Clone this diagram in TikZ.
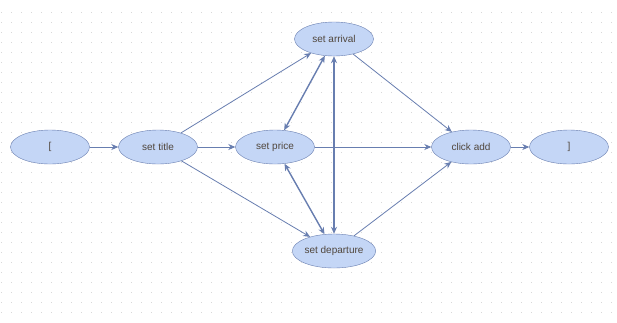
\documentclass[tikz,border=0pt]{standalone}
\usepackage{fontspec}
\setmainfont{Liberation Sans}
\usetikzlibrary{arrows.meta,shapes.geometric}
\definecolor{stepfill}{RGB}{196,214,246}
\definecolor{stepline}{RGB}{104,126,176}
\definecolor{steptext}{RGB}{80,70,60}
\definecolor{dotgrey}{RGB}{215,215,215}
\begin{document}
\begin{tikzpicture}[x=1pt,y=-1pt]
		\tikzset{stepnode/.style={ellipse,draw=stepline,fill=stepfill,minimum width=79pt,minimum height=34pt,inner sep=0pt,text=steptext,font=\fontsize{10}{12}\selectfont},
			link/.style={draw=stepline,line width=0.8pt,-{Stealth[length=7pt,width=6pt]}},
			twolink/.style={draw=stepline,line width=1.4pt,{Stealth[length=7pt,width=6pt]}-{Stealth[length=7pt,width=6pt]}}}
		\useasboundingbox (0,0) rectangle (617,322);
		\fill[white] (0,0) rectangle (617,322);
		\foreach \y in {12,22,...,312}
			\draw[dotgrey,line width=1pt,dash pattern=on 1pt off 9pt] (1,\y)--(617,\y);
		\node[stepnode] (open) at (50,147) {[};
		\node[stepnode] (title) at (158,147) {set title};
		\node[stepnode] (price) at (275,147) {set price};
		\node[stepnode] (arrival) at (334,39) {set arrival};
		\node[stepnode] (departure) at (334,251) {set departure};
		\node[stepnode] (add) at (471,147) {click add};
		\node[stepnode] (close) at (569,147) {]};
		\draw[link] (open)--(title);
		\draw[link] (title)--(price);
		\draw[link] (title)--(arrival);
		\draw[link] (title)--(departure);
		\draw[twolink] (price)--(arrival);
		\draw[twolink] (price)--(departure);
		\draw[twolink] (departure)--(arrival);
		\draw[link] (price)--(add);
		\draw[link] (arrival)--(add);
		\draw[link] (departure)--(add);
		\draw[link] (add)--(close);
	\end{tikzpicture}
\end{document}
